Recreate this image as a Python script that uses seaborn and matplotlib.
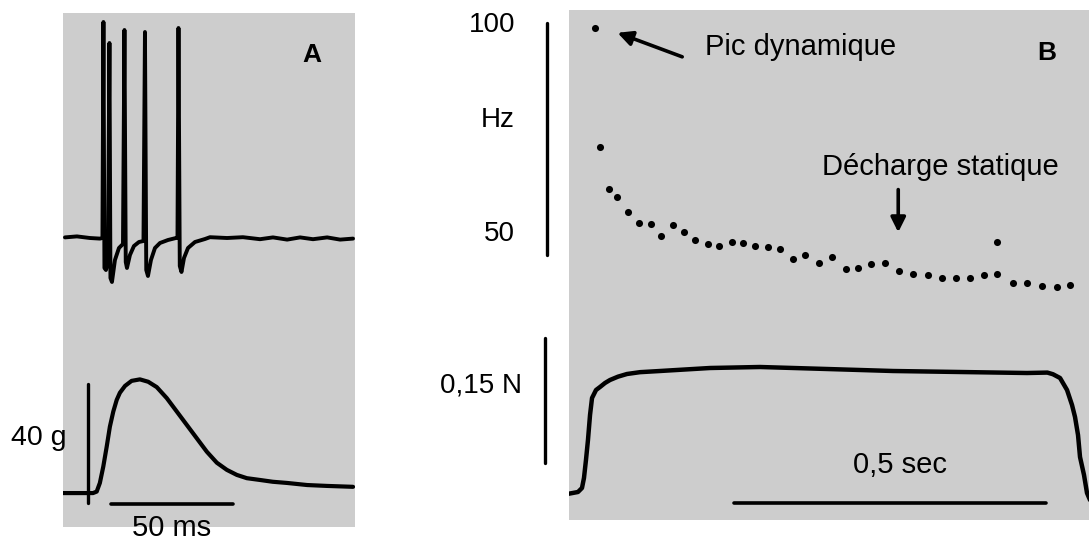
import matplotlib
matplotlib.use("Agg")
import matplotlib.pyplot as plt
import seaborn as sns

# Panel A - unit discharge (ms, arbitrary units)
spike_t = [-13.1, -8.2, -2.9, 1.2, 2.25, 2.66, 3.07, 3.69, 4.51, 5.12, 5.53, 6.15, 7.38, 9.02,
           10.66, 11.27, 11.80, 12.30, 13.52, 15.16, 17.21, 19.06, 19.67, 20.2, 20.9, 22.13,
           23.77, 25.82, 29.1, 32.38, 32.99, 33.4, 33.93, 34.63, 35.66, 37.3, 40.16, 44.26,
           46.3, 53.3, 59.8, 66.8, 72.1, 77.9, 83.2, 88.5, 94.3, 99.6, 104.9]
spike_v = [0.3, 0.8, 0, -0.3, 0, 108, -15, -16, -12, 97.5, -20, -22, -11, -5,
           -3, 104, -12, -15, -8.5, -4, -2, -1.5, 103, -16, -19, -11,
           -5, -2.5, -1, 0, 0, 105, -14, -17, -10, -5, -2, -0.5,
           0.4, 0, 0.4, -0.6, 0.3, -0.8, 0.3, -0.6, 0.3, -0.8, -0.3]

# Panel A - force (g)
forceA_t = [-13.9, -1.6, -0.1, 1.2, 2.6, 4.0, 5.3, 6.7, 8.1, 9.4, 11.5, 14.2, 17.6, 21.0,
            24.5, 28.6, 32.7, 36.8, 40.9, 45.0, 49.1, 53.2, 57.3, 61.4, 66.8, 72.0,
            77.9, 86.1, 94.3, 104.9]
forceA_g = [0.3, 0.3, 0.8, 3.7, 9.2, 15.9, 22.6, 27.7, 31.6, 34.0, 36.3, 38.0, 38.5, 37.7,
            35.9, 32.2, 27.7, 23.2, 18.7, 14.2, 10.5, 8.1, 6.4, 5.3, 4.7, 4.1,
            3.7, 3.0, 2.7, 2.4]

# Panel B - instantaneous frequency (s, Hz)
freq_t = [0.040, 0.048, 0.0625, 0.0758, 0.0925, 0.1106, 0.1293, 0.1458, 0.1646, 0.1822,
          0.2008, 0.2212, 0.2383, 0.2596, 0.2777, 0.2970, 0.3168, 0.3365, 0.3569, 0.3771,
          0.3995, 0.4194, 0.4418, 0.4620, 0.4819, 0.5048, 0.5277, 0.5502, 0.5742, 0.5966,
          0.6186, 0.6410, 0.6640, 0.6848, 0.6838, 0.7095, 0.7329, 0.7569, 0.7800, 0.8013]
freq_hz = [99.0, 73.2, 64.2, 62.4, 59.3, 56.8, 56.6, 54.2, 56.5, 55.0,
           53.3, 52.4, 52.0, 52.7, 52.5, 52.0, 51.7, 51.4, 49.1, 50.0,
           48.3, 49.5, 46.9, 47.3, 48.1, 48.3, 46.6, 45.9, 45.6, 45.0,
           45.0, 45.0, 45.6, 45.9, 52.9, 43.9, 43.9, 43.3, 43.2, 43.5]

# Panel B - force (N)
forceB_t = [-0.003, 0.0128, 0.0192, 0.0224, 0.0256, 0.0288, 0.0321, 0.0353, 0.0417, 0.0481,
            0.0561, 0.0641, 0.0769, 0.0913, 0.1122, 0.1442, 0.2244, 0.3045, 0.4119, 0.5176,
            0.625, 0.7324, 0.765, 0.774, 0.7853, 0.7965, 0.8045, 0.8093, 0.8141, 0.8173,
            0.8237, 0.8285, 0.8333]
forceB_n = [-0.001, 0.0012, 0.006, 0.018, 0.0396, 0.0636, 0.0936, 0.114, 0.1236, 0.1272,
            0.1320, 0.1356, 0.1396, 0.1428, 0.1450, 0.1464, 0.15, 0.1512, 0.1488, 0.1464,
            0.1452, 0.144, 0.1445, 0.1425, 0.138, 0.1236, 0.1056, 0.0912, 0.0696, 0.0432,
            0.0216, 0.0, -0.0084]

sns.set_style("white")
plt.rcParams['font.family'] = ['Liberation Sans', 'DejaVu Sans']
plt.rcParams['text.color'] = 'black'

W, H = 1089, 542
fig = plt.figure(figsize=(W / 100, H / 100), dpi=100)
bg = '#cdcdcd'


def px_axes(x0, y0, x1, y1, face=None):
    ax = fig.add_axes([x0 / W, 1 - y1 / H, (x1 - x0) / W, (y1 - y0) / H])
    if face:
        ax.set_facecolor(face)
    else:
        ax.patch.set_alpha(0)
    ax.set_xticks([])
    ax.set_yticks([])
    for s in ax.spines.values():
        s.set_visible(False)
    return ax


# ---- panel A ----
bgA = px_axes(63, 13, 355, 527, face=bg)
axA_spk = px_axes(63, 13, 355, 527)
axA_frc = px_axes(63, 13, 355, 527)
for ax in (axA_spk, axA_frc):
    ax.set_xlim(-13.9, 105.7)
axA_spk.set_ylim(-144.5, 112.5)
axA_frc.set_ylim(-11.1, 161.6)

sns.lineplot(x=spike_t, y=spike_v, ax=axA_spk, color='black', lw=2.8,
             estimator=None, sort=False)
sns.lineplot(x=forceA_t, y=forceA_g, ax=axA_frc, color='black', lw=3,
             estimator=None, sort=False)

# scale bars A
axA_frc.plot([-3.7, -3.7], [-3.0, 37.0], color='black', lw=2.4, clip_on=False)
axA_frc.plot([5.7, 55.7], [-3.4, -3.4], color='black', lw=2.6, clip_on=False)
axA_frc.text(-12.3, 16.5, '40 g', ha='right', va='baseline', fontsize=20.5)
axA_frc.text(30.5, -14.2, '50 ms', ha='center', va='baseline', fontsize=21)
axA_spk.text(88.1, 91.5, 'A', ha='center', va='center', fontsize=19, fontweight='bold')

# ---- panel B ----
bgB = px_axes(569, 10, 1089, 520, face=bg)
axB_hz = px_axes(569, 10, 1089, 520)
axB_frc = px_axes(569, 10, 1089, 520)
for ax in (axB_hz, axB_frc):
    ax.set_xlim(-0.0016, 0.8317)
axB_hz.set_ylim(-7.1, 102.8)
axB_frc.set_ylim(-0.0324, 0.5796)

sns.scatterplot(x=freq_t, y=freq_hz, ax=axB_hz, color='black', s=26, linewidth=0)
sns.lineplot(x=forceB_t, y=forceB_n, ax=axB_frc, color='black', lw=3.2,
             estimator=None, sort=False)

# scale bars B
axB_hz.plot([-0.037, -0.037], [50, 100], color='black', lw=2.4, clip_on=False)
axB_frc.plot([-0.040, -0.040], [0.036, 0.186], color='black', lw=2.4, clip_on=False)
axB_frc.plot([0.263, 0.763], [-0.012, -0.012], color='black', lw=2.6, clip_on=False)

axB_hz.text(-0.088, 99.6, '100', ha='right', va='center', fontsize=20)
axB_hz.text(-0.088, 79.1, 'Hz', ha='right', va='center', fontsize=20)
axB_hz.text(-0.088, 54.5, '50', ha='right', va='center', fontsize=20)
axB_frc.text(-0.077, 0.1296, '0,15 N', ha='right', va='center', fontsize=20)
axB_frc.text(0.529, 0.0336, '0,5 sec', ha='center', va='center', fontsize=21)
axB_hz.text(0.764, 93.5, 'B', ha='center', va='center', fontsize=19, fontweight='bold')

# annotations
axB_hz.annotate('', xy=(0.072, 98.1), xytext=(0.184, 92.5),
                arrowprops=dict(arrowstyle='-|>', color='black', lw=2.6, mutation_scale=22))
axB_hz.text(0.216, 94.8, 'Pic dynamique', ha='left', va='center', fontsize=21)
axB_hz.annotate('', xy=(0.526, 54.3), xytext=(0.526, 64.7),
                arrowprops=dict(arrowstyle='-|>', color='black', lw=2.6, mutation_scale=22))
axB_hz.text(0.593, 69.0, 'Décharge statique', ha='center', va='center', fontsize=21)

fig.savefig('out.png', dpi=100)
